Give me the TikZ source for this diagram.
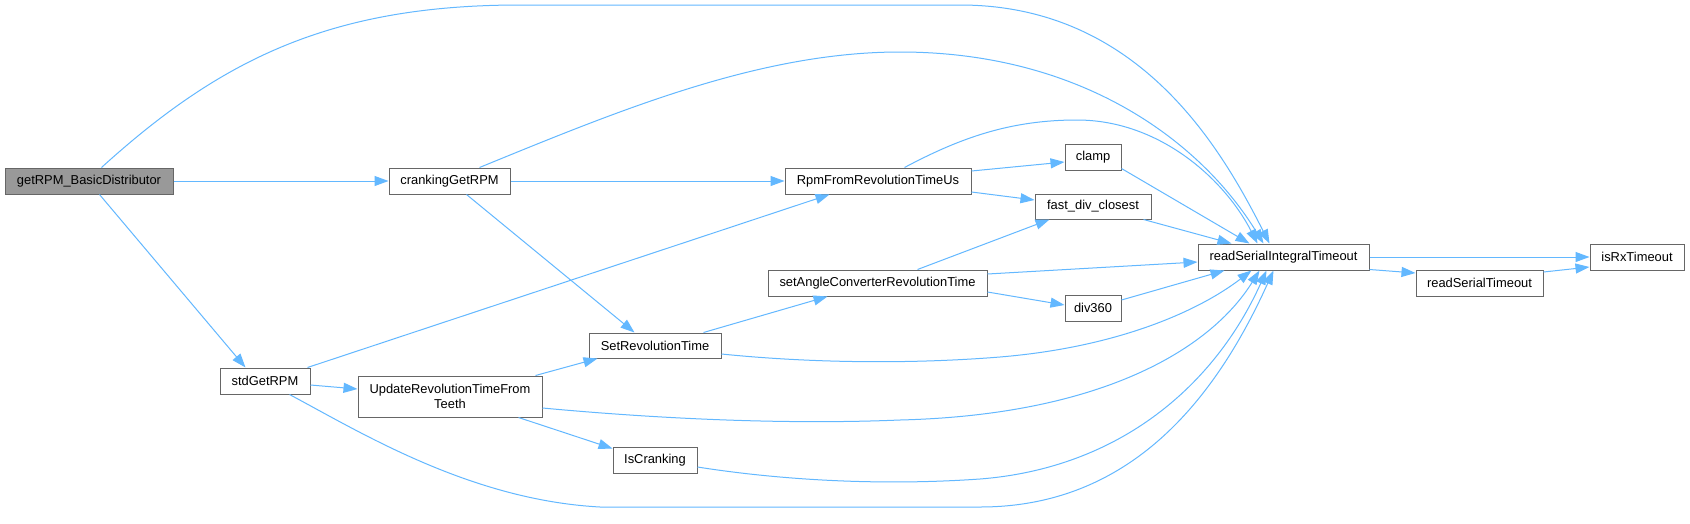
\documentclass[tikz,border=0pt]{standalone}
\usepackage{fontspec}
\setmainfont{Liberation Sans}
\usetikzlibrary{arrows.meta}
\definecolor{edgec}{HTML}{63B8FF}
\definecolor{bordc}{HTML}{666666}
\definecolor{rootc}{HTML}{999999}
\tikzset{
  fn/.style={draw=bordc, line width=1pt, fill=white, inner sep=0pt, font=\fontsize{12.9}{15}\selectfont},
  rootfn/.style={fn, fill=rootc},
  call/.style={draw=edgec, line width=1pt, -{Triangle[length=14pt,width=10pt]}},
}
\begin{document}
\begin{tikzpicture}[x=1pt,y=-1pt]
\fill[white] (0,0) rectangle (1690,523);
\useasboundingbox (0,0) rectangle (1690,523);

\node[rootfn, minimum width=168pt, minimum height=26pt] (getRPM) at (89,181) {getRPM\_BasicDistributor};
\node[fn, minimum width=121pt, minimum height=26pt] (cranking) at (449.5,181) {crankingGetRPM};
\node[fn, minimum width=186pt, minimum height=26pt] (rpm) at (878,181) {RpmFromRevolutionTimeUs};
\node[fn, minimum width=56pt, minimum height=26pt] (clamp) at (1093,157) {clamp};
\node[fn, minimum width=116pt, minimum height=25pt] (fast) at (1093,206.5) {fast\_div\_closest};
\node[fn, minimum width=171pt, minimum height=26pt] (rsi) at (1283.5,257) {readSerialIntegralTimeout};
\node[fn, minimum width=127pt, minimum height=26pt] (rst) at (1479.5,283) {readSerialTimeout};
\node[fn, minimum width=94pt, minimum height=26pt] (isrx) at (1637,257) {isRxTimeout};
\node[fn, minimum width=219pt, minimum height=26pt] (angle) at (877.5,283) {setAngleConverterRevolutionTime};
\node[fn, minimum width=56pt, minimum height=26pt] (div) at (1093,308) {div360};
\node[fn, minimum width=132pt, minimum height=25pt] (setrev) at (655,345.5) {SetRevolutionTime};
\node[fn, minimum width=90pt, minimum height=26pt] (std) at (265,381) {stdGetRPM};
\node[fn, minimum width=184pt, minimum height=41pt, align=center] (upd) at (450,396.5) {UpdateRevolutionTimeFrom\\Teeth};
\node[fn, minimum width=84pt, minimum height=26pt] (iscr) at (655,460) {IsCranking};

% getRPM_BasicDistributor
\draw[call] ([xshift=97pt]getRPM.north west) .. controls (220,60) and (330,5) .. (520,5) -- (960,5) .. controls (1140,5) and (1222,150) .. ([xshift=72pt]rsi.north west);
\draw[call] (getRPM.east) -- (cranking.west);
\draw[call] ([xshift=95pt]getRPM.south west) -- ([xshift=26pt]std.north west);

% crankingGetRPM
\draw[call] ([xshift=91pt]cranking.north west) .. controls (620,110) and (760,52) .. (900,52) .. controls (1080,52) and (1200,140) .. ([xshift=66pt]rsi.north west);
\draw[call] (cranking.east) -- (rpm.west);
\draw[call] ([xshift=78pt]cranking.south west) -- ([xshift=46pt]setrev.north west);

% RpmFromRevolutionTimeUs
\draw[call] ([xshift=120pt]rpm.north west) .. controls (960,138) and (1010,120) .. (1077,120) .. controls (1160,120) and (1225,180) .. ([xshift=60pt]rsi.north west);
\draw[call] ([yshift=10pt]rpm.east) -- ([yshift=-5pt]clamp.west);
\draw[call] ([yshift=-11pt]rpm.east) -- ([yshift=6.5pt]fast.west);

% stdGetRPM
\draw[call] ([xshift=-3pt]std.north east) -- ([xshift=45pt]rpm.south west);
\draw[call] ([yshift=-4pt]std.east) -- ([yshift=7.5pt]upd.west);
\draw[call] ([xshift=70pt]std.south west) .. controls (360,432) and (470,500) .. (600,507) -- (980,507) .. controls (1130,507) and (1215,400) .. ([xshift=76pt]rsi.south west);

% UpdateRevolutionTimeFromTeeth
\draw[call] ([xshift=-7pt]upd.north east) -- ([xshift=9pt]setrev.south west);
\draw[call] ([yshift=-11.5pt]upd.east) .. controls (650,418) and (780,425) .. (900,420) .. controls (1100,415) and (1210,350) .. ([xshift=62pt]rsi.south west);
\draw[call] ([xshift=-24pt]upd.south east) -- ([yshift=-2pt]iscr.north west);

% SetRevolutionTime
\draw[call] ([xshift=-18pt]setrev.north east) -- ([xshift=60pt]angle.south west);
\draw[call] ([yshift=-8.5pt]setrev.east) .. controls (800,362) and (900,365) .. (1000,357) .. controls (1120,347) and (1200,310) .. ([xshift=54pt]rsi.south west);

% IsCranking
\draw[call] ([yshift=-7pt]iscr.east) .. controls (780,480) and (880,486) .. (980,479) .. controls (1120,468) and (1215,385) .. ([xshift=69pt]rsi.south west);

% setAngleConverterRevolutionTime
\draw[call] ([xshift=-70pt]angle.north east) -- ([xshift=15pt]fast.south west);
\draw[call] ([yshift=9pt]angle.east) -- ([yshift=-5pt]rsi.west);
\draw[call] ([yshift=-9pt]angle.east) -- ([yshift=3pt]div.west);

% leaves into readSerialIntegralTimeout
\draw[call] ([yshift=2pt]clamp.south east) -- ([xshift=52pt]rsi.north west);
\draw[call] ([xshift=-8pt]fast.south east) -- ([xshift=34pt]rsi.north west);
\draw[call] ([yshift=8pt]div.east) -- ([xshift=27pt]rsi.south west);

% readSerialIntegralTimeout
\draw[call] (rsi.east) -- (isrx.west);
\draw[call] ([yshift=1pt]rsi.south east) -- ([yshift=10pt]rst.west);
\draw[call] ([yshift=11pt]rst.east) -- ([yshift=-10pt]isrx.west);
\end{tikzpicture}
\end{document}
